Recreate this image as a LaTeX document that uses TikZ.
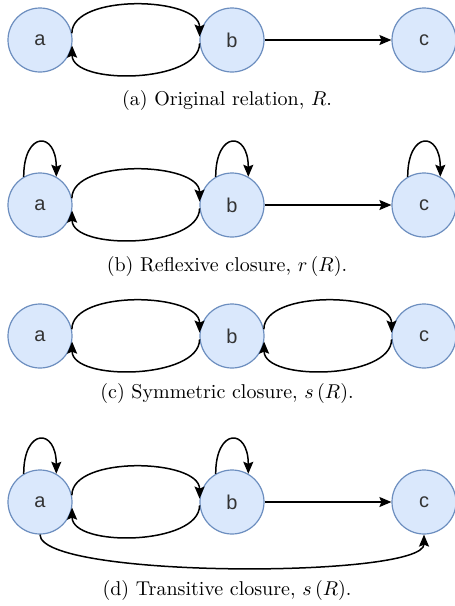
\documentclass[tikz,border=0pt]{standalone}
\usepackage{fontspec}
\newfontfamily\vfont{Liberation Sans}
\usepackage{xcolor}
\definecolor{vfill}{HTML}{DAE8FC}
\definecolor{vline}{HTML}{6C8EBF}
\definecolor{vtext}{HTML}{333333}
\usepackage{tikz}
\usetikzlibrary{arrows.meta,positioning}
\tikzset{
  vtx/.style={circle,draw=vline,fill=vfill,line width=0.6pt,minimum size=32pt,inner sep=0pt,
    font=\vfont\fontsize{10}{12}\selectfont,text=vtext},
  edg/.style={-{Stealth[length=6pt,width=5pt,inset=1pt]},line width=0.75pt},
  capt/.style={font=\normalsize},
}
\begin{document}
\begin{tikzpicture}[x=0.5pt,y=-0.5pt]
    \useasboundingbox (0,0) rectangle (455,606);
    \def\xa{40}\def\xb{232}\def\xc{424}
    % (a) original
    \node[vtx] (a1) at (\xa,40) {a};
    \node[vtx] (b1) at (\xb,40) {b};
    \node[vtx] (c1) at (\xc,40) {c};
    \draw[edg] (a1.12) .. controls +(0,-40) and +(0,-40) .. (b1.174);
    \draw[edg] (b1.186) .. controls +(0,40) and +(0,40) .. (a1.350);
    \draw[edg] (b1.east) -- (c1.west);
    \node[capt] (capa) at (227,100) {(a) Original relation, $R$.};
    % (b) reflexive
    \node[vtx] (a2) at (\xa,205) {a};
    \node[vtx] (b2) at (\xb,205) {b};
    \node[vtx] (c2) at (\xc,205) {c};
    \draw[edg] (a2.120) .. controls +(0,-46) and +(0,-46) .. (a2.60);
    \draw[edg] (b2.120) .. controls +(0,-46) and +(0,-46) .. (b2.60);
    \draw[edg] (c2.120) .. controls +(0,-46) and +(0,-46) .. (c2.60);
    \draw[edg] (a2.12) .. controls +(0,-40) and +(0,-40) .. (b2.174);
    \draw[edg] (b2.186) .. controls +(0,40) and +(0,40) .. (a2.350);
    \draw[edg] (b2.east) -- (c2.west);
    \node[capt] (capb) at (227,266) {(b) Reflexive closure, $r\left(R\right)$.};
    % (c) symmetric
    \node[vtx] (a3) at (\xa,336) {a};
    \node[vtx] (b3) at (\xb,336) {b};
    \node[vtx] (c3) at (\xc,336) {c};
    \draw[edg] (a3.12) .. controls +(0,-40) and +(0,-40) .. (b3.174);
    \draw[edg] (b3.186) .. controls +(0,40) and +(0,40) .. (a3.350);
    \draw[edg] (b3.12) .. controls +(0,-40) and +(0,-40) .. (c3.174);
    \draw[edg] (c3.186) .. controls +(0,40) and +(0,40) .. (b3.350);
    \node[capt] (capc) at (227,393) {(c) Symmetric closure, $s\left(R\right)$.};
    % (d) transitive
    \node[vtx] (a4) at (\xa,502) {a};
    \node[vtx] (b4) at (\xb,502) {b};
    \node[vtx] (c4) at (\xc,502) {c};
    \draw[edg] (a4.120) .. controls +(0,-46) and +(0,-46) .. (a4.60);
    \draw[edg] (b4.120) .. controls +(0,-46) and +(0,-46) .. (b4.60);
    \draw[edg] (a4.12) .. controls +(0,-40) and +(0,-40) .. (b4.174);
    \draw[edg] (b4.186) .. controls +(0,40) and +(0,40) .. (a4.350);
    \draw[edg] (b4.east) -- (c4.west);
    \draw[edg] (a4.south) .. controls +(0,44) and +(0,44) .. (c4.south);
    \node[capt] (capd) at (227,590) {(d) Transitive closure, $s\left(R\right)$.};
\end{tikzpicture}
\end{document}
